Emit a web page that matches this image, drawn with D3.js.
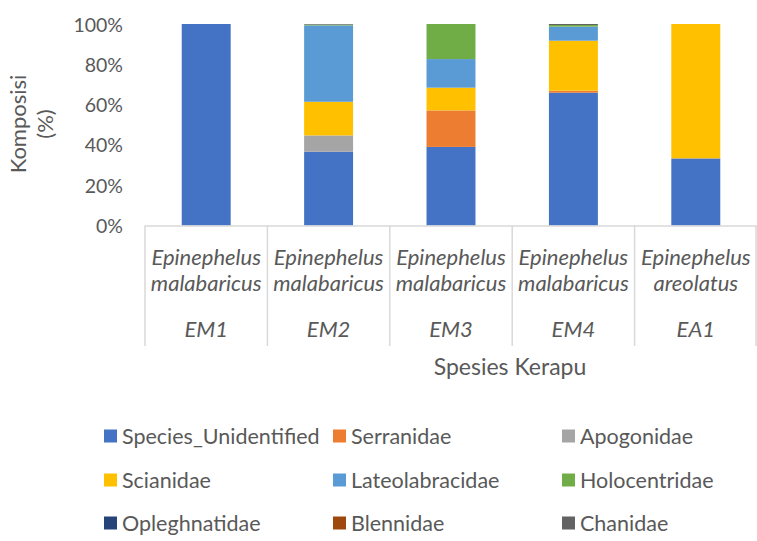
<!DOCTYPE html>
<html>
<head>
<meta charset="utf-8">
<script src="https://cdn.jsdelivr.net/npm/d3@7"></script>
<style>
  html, body { margin: 0; padding: 0; background: #fff; }
  svg { display: block; font-family: Lato, "Noto Sans", sans-serif; }
</style>
</head>
<body>
<svg id="chart" width="757" height="541"></svg>
<script>
// ---- data ----
const categories = ["EM1", "EM2", "EM3", "EM4", "EA1"];
const speciesNames = ["Epinephelus malabaricus", "Epinephelus malabaricus", "Epinephelus malabaricus", "Epinephelus malabaricus", "Epinephelus areolatus"];
const seriesNames = ["Species_Unidentified", "Serranidae", "Apogonidae", "Scianidae", "Lateolabracidae", "Holocentridae", "Opleghnatidae", "Blennidae", "Chanidae"];
const Species_Unidentified = [100, 36.6, 39.0, 65.9, 33.3];
const Serranidae           = [0,   0,    18.1, 1.0,  0];
const Apogonidae           = [0,   8.1,  0,    0,    0];
const Scianidae            = [0,   16.7, 11.3, 24.8, 66.7];
const Lateolabracidae      = [0,   37.9, 14.2, 7.0,  0];
const Holocentridae        = [0,   0.4,  17.4, 0.8,  0];
const Opleghnatidae        = [0,   0,    0,    0,    0];
const Blennidae            = [0,   0,    0,    0,    0];
const Chanidae             = [0,   0.3,  0,    0.5,  0];
const yTicks = [0, 20, 40, 60, 80, 100];
const colors = ["#4472C4", "#ED7D31", "#A5A5A5", "#FFC000", "#5B9BD5", "#70AD47", "#264478", "#9E480E", "#636363"];

const seriesValues = [Species_Unidentified, Serranidae, Apogonidae, Scianidae, Lateolabracidae, Holocentridae, Opleghnatidae, Blennidae, Chanidae];
const table = categories.map((c, i) => {
  const row = { cat: c };
  seriesNames.forEach((s, j) => row[s] = seriesValues[j][i]);
  return row;
});

// ---- layout ----
const svg = d3.select("#chart");
const plot = { left: 145, right: 757, top: 24, bottom: 225.5 };
const textColor = "#595959";
const lineColor = "#D9D9D9";

const x = d3.scaleBand().domain(categories).range([plot.left, plot.right]).paddingInner(0).paddingOuter(0);
const y = d3.scaleLinear().domain([0, 100]).range([plot.bottom, plot.top]);

const stack = d3.stack().keys(seriesNames);
const stacked = stack(table);

const barW = x.bandwidth() * 0.4;
const g = svg.append("g");
stacked.forEach((layer, j) => {
  g.selectAll(null).data(layer).enter().append("rect")
    .attr("x", d => x(d.data.cat) + (x.bandwidth() - barW) / 2)
    .attr("y", d => y(d[1]))
    .attr("width", barW)
    .attr("height", d => Math.max(0, y(d[0]) - y(d[1])))
    .attr("fill", colors[j]);
});

// y axis (no line)
const yAxis = d3.axisLeft(y).tickValues(yTicks).tickSize(0).tickPadding(0).tickFormat(d => d + "%");
const yg = svg.append("g").attr("transform", `translate(${plot.left - 22},0)`).call(yAxis);
yg.select(".domain").remove();
yg.selectAll("text").attr("fill", textColor).style("font-size", "19.5px").attr("font-family", "Lato, sans-serif").attr("dy", "0.36em");

// x axis line and separators
const xg = svg.append("g");
xg.append("line").attr("x1", plot.left).attr("x2", plot.right).attr("y1", plot.bottom + 0.5).attr("y2", plot.bottom + 0.5)
  .attr("stroke", lineColor).attr("stroke-width", 1.5);
const sepPositions = categories.map(c => x(c)).concat([x(categories[categories.length - 1]) + x.bandwidth()]);
xg.selectAll(null).data(sepPositions).enter().append("line")
  .attr("x1", d => Math.min(d, 756) ).attr("x2", d => Math.min(d, 756))
  .attr("y1", plot.bottom).attr("y2", 346)
  .attr("stroke", lineColor).attr("stroke-width", 1.5);

const labG = svg.append("g").attr("fill", textColor).style("font-style", "italic").style("font-size", "22px").attr("text-anchor", "middle");
categories.forEach((c, i) => {
  const cx = x(c) + x.bandwidth() / 2;
  const parts = speciesNames[i].split(" ");
  labG.append("text").attr("x", cx).attr("y", 265).text(parts[0]);
  labG.append("text").attr("x", cx).attr("y", 291).text(parts[1]);
  labG.append("text").attr("x", cx).attr("y", 337).text(c);
});

// axis titles
svg.append("text").attr("x", 510).attr("y", 375).attr("text-anchor", "middle").attr("fill", textColor)
  .style("font-size", "23px").text("Spesies Kerapu");
const yt = svg.append("text").attr("transform", "translate(26,124) rotate(-90)").attr("text-anchor", "middle")
  .attr("fill", textColor).style("font-size", "22px");
yt.append("tspan").attr("x", 0).attr("dy", 0).text("Komposisi");
yt.append("tspan").attr("x", 0).attr("dy", 27).text("(%)");

// legend
const legX = [104, 333, 562];
const legY = [436, 480, 523];
const lg = svg.append("g");
seriesNames.forEach((s, i) => {
  const cx = legX[i % 3], cy = legY[Math.floor(i / 3)];
  lg.append("rect").attr("x", cx).attr("y", cy - 6.5).attr("width", 13).attr("height", 13).attr("fill", colors[i]);
  lg.append("text").attr("x", cx + 18).attr("y", cy).attr("dy", "0.36em").attr("fill", textColor)
    .style("font-size", "21.5px").text(s);
});
</script>
</body>
</html>
